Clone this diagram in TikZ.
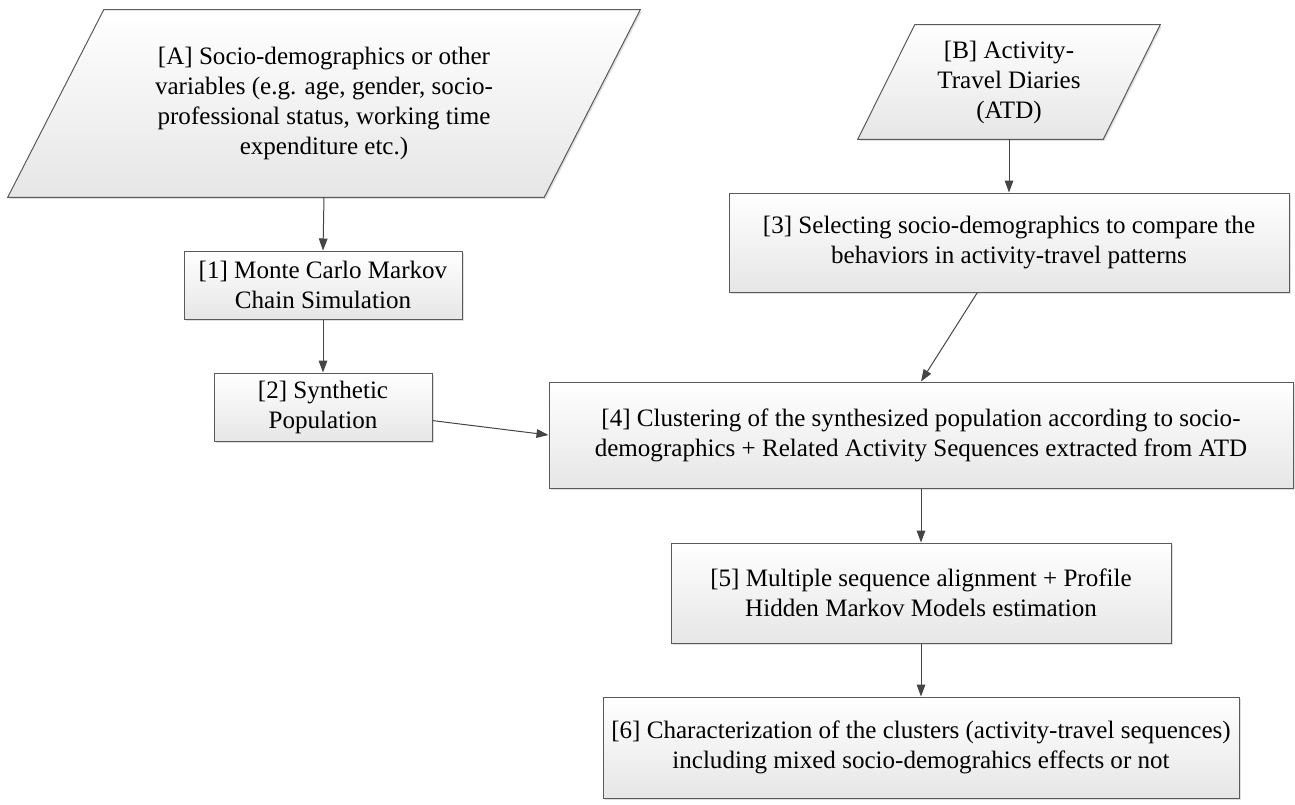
\documentclass[tikz,border=0pt]{standalone}
\usepackage{fontspec}
\setmainfont{Liberation Serif}
\usetikzlibrary{arrows.meta,shadows,backgrounds}

\definecolor{boxline}{HTML}{5A5A5A}
\definecolor{boxfill}{HTML}{E6E6E6}
\definecolor{arrowgray}{HTML}{454545}

\tikzset{
	txt/.style={align=center, inner sep=0pt, font=\fontsize{18.8}{22.5}\selectfont},
	stepbox/.style={txt, draw=boxline, line width=0.75pt, top color=white, bottom color=boxfill,
		drop shadow={shadow xshift=1.2pt, shadow yshift=-1.2pt, opacity=0.25}},
	inbox/.style={draw=boxline, line width=0.75pt, top color=white, bottom color=boxfill,
		drop shadow={shadow xshift=1.2pt, shadow yshift=-1.2pt, opacity=0.25}},
	arr/.style={draw=arrowgray, line width=0.75pt, -{Triangle[length=9pt,width=6.5pt]}}
}

\begin{document}
\begin{tikzpicture}[x=0.75pt, y=-0.75pt]
			\useasboundingbox (0,0) rectangle (1295,804);
			%inputs
			\node[txt, minimum width=474pt, minimum height=140.25pt] (A) at (324,103.5)
				{[A] Socio-demographics or other\\variables (e.g. age, gender, socio-\\professional status, working time\\expenditure etc.)};
			\node[txt, minimum width=226.5pt, minimum height=85.5pt] (B) at (1009,82)
				{[B] Activity-\\Travel Diaries\\(ATD)};
			\begin{scope}[on background layer]
				\draw[inbox] ([xshift=72pt]A.north west) -- (A.north east) -- ([xshift=-72pt]A.south east) -- (A.south west) -- cycle;
				\draw[inbox] ([xshift=42.75pt]B.north west) -- (B.north east) -- ([xshift=-42.75pt]B.south east) -- (B.south west) -- cycle;
			\end{scope}
			%steps
			\node[stepbox, minimum width=208.5pt, minimum height=51pt] (n1) at (323,285) {[1] Monte Carlo Markov\\Chain Simulation};
			\node[stepbox, minimum width=163.5pt, minimum height=51pt] (n2) at (323,407) {[2] Synthetic\\Population};
			\node[stepbox, minimum width=420pt, minimum height=74.25pt] (n3) at (1009,242.5) {[3] Selecting socio-demographics to compare the\\behaviors in activity-travel patterns};
			\node[stepbox, minimum width=558pt, minimum height=79.5pt] (n4) at (921,435) {[4] Clustering of the synthesized population according to socio-\\demographics + Related Activity Sequences extracted from ATD};
			\node[stepbox, minimum width=375pt, minimum height=75pt] (n5) at (921,593) {[5] Multiple sequence alignment + Profile\\Hidden Markov Models estimation};
			\node[stepbox, minimum width=477pt, minimum height=75.75pt] (n6) at (921,747.5) {[6] Characterization of the clusters (activity-travel sequences)\\including mixed socio-demograhics effects or not};
			%connectors
			\draw[arr] (A.south) -- (n1.north);
			\draw[arr] (n1.south) -- (n2.north);
			\draw[arr] (B.south) -- (n3.north);
			\draw[arr] (n3) -- (n4.north);
			\draw[arr] (n2) -- (n4.west);
			\draw[arr] (n4.south) -- (n5.north);
			\draw[arr] (n5.south) -- (n6.north);
		\end{tikzpicture}
\end{document}
